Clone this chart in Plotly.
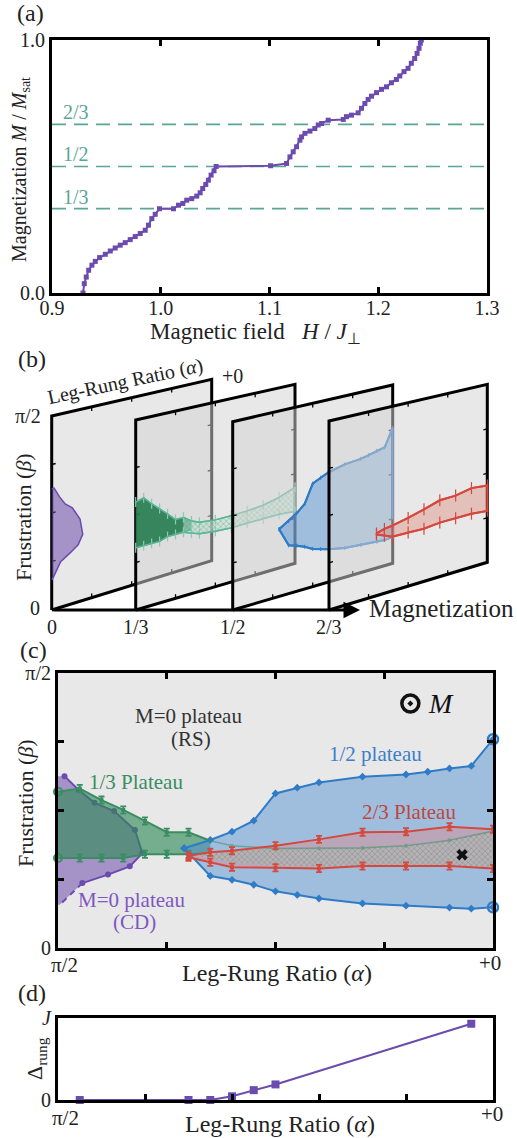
import plotly.graph_objects as go

W, H = 517, 1138
SERIF = "Liberation Serif"

PURPLE = "#6B4BAE"
GREEN = "#3A8D62"
BLUE = "#2F7BC8"
RED = "#D6483D"
TEAL = "#5AA596"

# ---------------- (a) magnetization curve ----------------
field_H = [0.9285, 0.9297, 0.9315, 0.9337, 0.9367, 0.9398, 0.9438, 0.9490, 0.9536, 0.9581,
           0.9627, 0.9673, 0.9719, 0.9765, 0.9811, 0.9857, 0.9887, 0.9918, 0.9949, 0.9988,
           1.0117, 1.0163, 1.0203, 1.0239, 1.0285, 1.0331, 1.0362, 1.0386, 1.0414, 1.0438,
           1.0463, 1.0490, 1.0509, 1.1010, 1.1157, 1.1188, 1.1218, 1.1249, 1.1280, 1.1295,
           1.1326, 1.1372, 1.1417, 1.1448, 1.1479, 1.1540, 1.1678, 1.1708, 1.1754, 1.1815,
           1.1846, 1.1877, 1.1907, 1.1938, 1.1984, 1.2030, 1.2076, 1.2121, 1.2167, 1.2198,
           1.2237, 1.2274, 1.2304, 1.2335, 1.2357, 1.2375, 1.2387, 1.2396]
magnet_M = [0.000, 0.037, 0.063, 0.090, 0.110, 0.125, 0.140, 0.153, 0.166, 0.178,
            0.189, 0.199, 0.211, 0.223, 0.235, 0.248, 0.268, 0.294, 0.311, 0.333,
            0.333, 0.347, 0.354, 0.367, 0.373, 0.383, 0.396, 0.413, 0.429, 0.446,
            0.466, 0.483, 0.500, 0.503, 0.512, 0.538, 0.558, 0.578, 0.604, 0.617,
            0.631, 0.640, 0.650, 0.664, 0.670, 0.683, 0.686, 0.697, 0.703, 0.712,
            0.730, 0.749, 0.765, 0.778, 0.792, 0.805, 0.815, 0.831, 0.844, 0.858,
            0.875, 0.888, 0.908, 0.927, 0.947, 0.967, 0.987, 1.000]
ref_levels = [1 / 3, 1 / 2, 2 / 3]
ref_labels = ["1/3", "1/2", "2/3"]
a_xticks = [0.9, 1.0, 1.1, 1.2, 1.3]
a_xticklabels = ["0.9", "1.0", "1.1", "1.2", "1.3"]

# ---------------- (c) phase diagram (alpha: 0 = pi/2 ... 1 = +0; beta: 0 ... 1 = pi/2) ----
cd_u_upper = [0.015, 0.048, 0.084, 0.129, 0.177, 0.194]
cd_upper = [0.625, 0.574, 0.528, 0.498, 0.429, 0.345]
cd_u_lower = [0.194, 0.165, 0.115, 0.056, 0.004]
cd_lower = [0.345, 0.297, 0.267, 0.236, 0.157]

third_u = [0.00, 0.05, 0.10, 0.15, 0.20, 0.25, 0.30, 0.35]
third_upper = [0.568, 0.580, 0.538, 0.502, 0.462, 0.421, 0.421, 0.390]
third_lower = [0.327, 0.327, 0.327, 0.327, 0.341, 0.341, 0.341, 0.345]

hatch_u = [0.30, 0.35, 0.40, 0.50, 0.60, 0.70, 0.80, 0.90, 1.00]
hatch_upper = [0.421, 0.390, 0.372, 0.362, 0.362, 0.364, 0.372, 0.392, 0.425]
hatch_lower = [0.341, 0.325, 0.310, 0.300, 0.295, 0.298, 0.298, 0.298, 0.290]

half_u_upper = [0.29, 0.35, 0.40, 0.45, 0.50, 0.55, 0.60, 0.70, 0.80, 0.85, 0.90, 0.95, 1.00]
half_upper = [0.363, 0.393, 0.423, 0.463, 0.562, 0.583, 0.602, 0.623, 0.631, 0.641, 0.653, 0.662, 0.759]
half_u_lower = [0.29, 0.35, 0.40, 0.45, 0.50, 0.55, 0.60, 0.70, 0.80, 0.90, 0.95, 1.00]
half_lower = [0.363, 0.262, 0.248, 0.230, 0.206, 0.193, 0.180, 0.162, 0.154, 0.147, 0.143, 0.148]

tt_u = [0.30, 0.35, 0.40, 0.50, 0.60, 0.70, 0.80, 0.90, 1.00]
tt_upper = [0.335, 0.348, 0.354, 0.372, 0.395, 0.421, 0.423, 0.441, 0.432]
tt_lower = [0.330, 0.312, 0.294, 0.292, 0.289, 0.298, 0.298, 0.298, 0.289]

cross_point = (0.929, 0.339)
c_ticks = [0, 0.25, 0.5, 0.75, 1]
alpha_end_labels = ["π/2", "+0"]

# ---------------- (d) rung gap ----------------
gap_u = [0.05, 0.30, 0.35, 0.40, 0.45, 0.50, 0.95]
gap_val = [0.0, 0.0, 0.0, 0.045, 0.12, 0.19, 0.93]

# ---------------- (b) pseudo-3D sheets (pixel frame of panel b) ----------------
sheet_names = ["0", "1/3", "1/2", "2/3"]
sheet_left = [51.7, 135.7, 232.7, 329.0]
sheet_width = [160.0, 159.3, 160.0, 158.3]
sheet_bot0 = [610.0, 610.0, 610.0, 610.0]
sheet_top0 = [416.0, 420.0, 421.7, 421.0]
sheet_bot1 = [560.7, 563.3, 563.3, 562.3]
sheet_top1 = [379.3, 384.3, 385.0, 384.3]


def proj(k, us, vs):
    xs, ys = [], []
    for u, v in zip(us, vs):
        if u is None:
            xs.append(None)
            ys.append(None)
            continue
        b = sheet_bot0[k] + u * (sheet_bot1[k] - sheet_bot0[k])
        t = sheet_top0[k] + u * (sheet_top1[k] - sheet_top0[k])
        xs.append(sheet_left[k] + u * sheet_width[k])
        ys.append(b - v * (b - t))
    return xs, ys


fig = go.Figure()


def add(tr):
    tr.update(showlegend=False, hoverinfo="skip")
    fig.add_trace(tr)


# ===== (a) =====
for lvl in ref_levels:
    add(go.Scatter(x=[a_xticks[0], a_xticks[-1]], y=[lvl, lvl], mode="lines",
                   line=dict(color=TEAL, width=1.6, dash="14px,8px"), xaxis="x", yaxis="y"))
add(go.Scatter(x=field_H, y=magnet_M, mode="lines+markers",
               line=dict(color=PURPLE, width=2),
               marker=dict(symbol="square", size=5, color=PURPLE),
               cliponaxis=False, xaxis="x", yaxis="y"))
for lvl, lab in zip(ref_levels, ref_labels):
    fig.add_annotation(x=0.922, y=lvl, xref="x", yref="y", text=lab, showarrow=False,
                       yshift=12, font=dict(family=SERIF, size=20, color=TEAL))


# ===== (b) =====
def sheet_data(k):
    B = dict(xaxis="x2", yaxis="y2")
    if k == 0:
        pu = [0] + cd_u_upper + cd_u_lower + [0]
        pv = [cd_upper[0]] + cd_upper + cd_lower + [cd_lower[-1]]
        x, y = proj(0, pu, pv)
        add(go.Scatter(x=x, y=y, mode="lines", fill="toself",
                       fillcolor="rgba(110,75,170,0.55)", line=dict(color=PURPLE, width=1.5), **B))
    if k == 1:
        x, y = proj(1, third_u + third_u[::-1], third_upper + third_lower[::-1])
        add(go.Scatter(x=x, y=y, mode="lines", fill="toself",
                       fillcolor="rgba(40,125,80,0.92)", line=dict(color="#4FA07A", width=1.2), **B))
        x, y = proj(1, hatch_u + hatch_u[::-1], hatch_upper + hatch_lower[::-1])
        add(go.Scatter(x=x, y=y, mode="lines", fill="toself", fillcolor="rgba(160,205,185,0.6)",
                       fillpattern=dict(shape="x", fgcolor="rgba(70,140,110,0.8)",
                                        bgcolor="rgba(190,225,210,0.6)", size=4, solidity=0.35),
                       line=dict(color="#5DB59A", width=1.4), **B))
        for arr_u, arr_v in ((third_u, third_upper), (third_u, third_lower),
                             (hatch_u, hatch_upper), (hatch_u, hatch_lower)):
            x, y = proj(1, arr_u, arr_v)
            add(go.Scatter(x=x, y=y, mode="lines", line=dict(color="#5DB59A", width=1.4),
                           error_y=dict(type="constant", value=5, color="#86CDAE",
                                        thickness=1.2, width=0), **B))
    if k == 2:
        x, y = proj(2, half_u_upper + half_u_lower[::-1], half_upper + half_lower[::-1])
        add(go.Scatter(x=x, y=y, mode="lines", fill="toself",
                       fillcolor="rgba(70,140,210,0.45)", line=dict(color=BLUE, width=2), **B))
        for arr_u, arr_v in ((half_u_upper, half_upper), (half_u_lower, half_lower)):
            x, y = proj(2, arr_u, arr_v)
            add(go.Scatter(x=x, y=y, mode="lines", line=dict(color=BLUE, width=2),
                           error_y=dict(type="constant", value=2, color=BLUE,
                                        thickness=1, width=0), **B))
    if k == 3:
        x, y = proj(3, tt_u + tt_u[::-1] + [tt_u[0]], tt_upper + tt_lower[::-1] + [tt_upper[0]])
        add(go.Scatter(x=x, y=y, mode="lines", fill="toself",
                       fillcolor="rgba(220,90,70,0.28)", line=dict(color=RED, width=2), **B))
        for arr_v in (tt_upper, tt_lower):
            x, y = proj(3, tt_u, arr_v)
            add(go.Scatter(x=x, y=y, mode="lines", line=dict(color=RED, width=2),
                           error_y=dict(type="constant", value=6, color=RED,
                                        thickness=1.2, width=0), **B))


for k in range(4):
    sx, sy = proj(k, [0, 1, 1, 0, 0], [0, 0, 1, 1, 0])
    add(go.Scatter(x=sx, y=sy, mode="lines", fill="toself",
                   fillcolor="rgba(211,211,211,0.52)",
                   line=dict(color="black", width=3), xaxis="x2", yaxis="y2"))
    tu, tv = [], []
    for t in (0.25, 0.5, 0.75):
        tu += [0, 0.025, None, 1, 0.975, None, t, t, None, t, t, None]
        tv += [t, t, None, t, t, None, 0, 0.022, None, 1, 0.978, None]
    tx, ty = proj(k, tu, tv)
    add(go.Scatter(x=tx, y=ty, mode="lines", line=dict(color="black", width=1.3),
                   connectgaps=False, xaxis="x2", yaxis="y2"))
    sheet_data(k)

fig.add_annotation(x=360, y=610, ax=52, ay=610, xref="x2", yref="y2", axref="x2", ayref="y2",
                   showarrow=True, arrowhead=2, arrowsize=1.1, arrowwidth=3, arrowcolor="black", text="")

# ===== (c) =====
C = dict(xaxis="x3", yaxis="y3")
pu = [0] + cd_u_upper + cd_u_lower + [0]
pv = [cd_upper[0]] + cd_upper + cd_lower + [cd_lower[-1]]
add(go.Scatter(x=pu, y=pv, mode="lines", fill="toself", fillcolor="rgba(110,75,170,0.55)",
               line=dict(width=0), **C))
add(go.Scatter(x=cd_u_upper + cd_u_lower[:-1], y=cd_upper + cd_lower[:-1], mode="lines+markers",
               line=dict(color=PURPLE, width=2), marker=dict(size=6, color=PURPLE), **C))
add(go.Scatter(x=cd_u_lower[-2:], y=cd_lower[-2:], mode="lines",
               line=dict(color=PURPLE, width=2, dash="6px,5px"), **C))

add(go.Scatter(x=third_u + third_u[::-1], y=third_upper + third_lower[::-1], mode="lines",
               fill="toself", fillcolor="rgba(46,139,87,0.62)", line=dict(width=0), **C))
for arr in (third_upper, third_lower):
    add(go.Scatter(x=third_u, y=arr, mode="lines", line=dict(color=GREEN, width=2), **C))
    add(go.Scatter(x=third_u[1:7], y=arr[1:7], mode="markers",
                   marker=dict(symbol="square", size=4, color=GREEN),
                   error_y=dict(type="constant", value=0.013, color=GREEN, thickness=1.8, width=3), **C))
add(go.Scatter(x=[third_u[0], third_u[0]], y=[third_upper[0], third_lower[0]], mode="markers",
               marker=dict(symbol="circle-open", size=8, color=GREEN, line=dict(width=2)),
               cliponaxis=False, **C))

add(go.Scatter(x=half_u_upper + half_u_lower[::-1], y=half_upper + half_lower[::-1], mode="lines",
               fill="toself", fillcolor="rgba(70,140,210,0.45)", line=dict(width=0), **C))
for uu, arr in ((half_u_upper, half_upper), (half_u_lower, half_lower)):
    add(go.Scatter(x=uu, y=arr, mode="lines+markers", line=dict(color=BLUE, width=2),
                   marker=dict(symbol="diamond", size=6, color=BLUE), **C))
add(go.Scatter(x=[half_u_upper[-1], half_u_lower[-1]], y=[half_upper[-1], half_lower[-1]],
               mode="markers", marker=dict(symbol="circle-open", size=10, color=BLUE, line=dict(width=2.5)),
               cliponaxis=False, **C))

add(go.Scatter(x=tt_u + tt_u[::-1], y=tt_upper + tt_lower[::-1], mode="lines", fill="toself",
               fillcolor="rgba(235,125,125,0.38)", line=dict(width=0), **C))
hatch_top = [min(a, b) for a, b in zip(hatch_upper, tt_upper)]
hatch_bot = [max(a, b) for a, b in zip(hatch_lower, tt_lower)]
add(go.Scatter(x=hatch_u + hatch_u[::-1], y=hatch_top + hatch_bot[::-1],
               mode="lines", fill="toself", fillcolor="rgba(150,165,155,0.45)",
               fillpattern=dict(shape="x", fgcolor="rgba(95,105,100,0.75)", bgcolor="rgba(175,190,180,0.5)",
                                size=4, solidity=0.35),
               line=dict(width=0), **C))
add(go.Scatter(x=hatch_u[1:], y=hatch_upper[1:], mode="lines+markers", opacity=0.5,
               line=dict(color=GREEN, width=1.6), marker=dict(size=4, color=GREEN), **C))
for arr in (tt_upper, tt_lower):
    add(go.Scatter(x=tt_u, y=arr, mode="lines+markers", line=dict(color=RED, width=2),
                   marker=dict(symbol="square", size=4, color=RED),
                   error_y=dict(type="constant", value=0.013, color=RED, thickness=1.8, width=3),
                   cliponaxis=False, **C))
add(go.Scatter(x=[cross_point[0]], y=[cross_point[1]], mode="markers",
               marker=dict(symbol="x", size=10, color="#111", line=dict(width=0)), **C))
add(go.Scatter(x=[0.81], y=[0.889], mode="markers",
               marker=dict(symbol="circle-open-dot", size=17, color="#111", line=dict(width=3.5)), **C))

c_texts = [
    ("M=0 plateau", 0.300, 0.843, "#333"),
    ("(RS)", 0.305, 0.760, "#333"),
    ("1/3 Plateau", 0.18, 0.605, GREEN),
    ("1/2 plateau", 0.729, 0.707, "#3B7FC9"),
    ("2/3 Plateau", 0.808, 0.496, "#C0453A"),
    ("M=0 plateau", 0.169, 0.175, "#7E57C2"),
    ("(CD)", 0.175, 0.093, "#7E57C2"),
]
for txt, xu, yv, col in c_texts:
    fig.add_annotation(x=xu, y=yv, xref="x3", yref="y3", text=txt, showarrow=False,
                       font=dict(family=SERIF, size=21, color=col))
fig.add_annotation(x=0.88, y=0.889, xref="x3", yref="y3", text="<i>M</i>", showarrow=False,
                   font=dict(family=SERIF, size=28, color="#111"))

# ===== (d) =====
add(go.Scatter(x=gap_u, y=gap_val, mode="lines+markers", line=dict(color=PURPLE, width=2),
               marker=dict(symbol="square", size=8, color=PURPLE), cliponaxis=False,
               xaxis="x4", yaxis="y4"))


# ===== texts (paper positions in pixels) =====
def P(px, py):
    return px / W, 1 - py / H


def add_text(text, px, py, size, color="#222", angle=0):
    x, y = P(px, py)
    fig.add_annotation(x=x, y=y, xref="paper", yref="paper", text=text, showarrow=False,
                       textangle=angle, font=dict(family=SERIF, size=size, color=color),
                       xanchor="center", yanchor="middle")


add_text("(a)", 30, 13, 24)
add_text("Magnetization <i>M</i> / <i>M</i><sub>sat</sub>", 20, 170, 20, angle=-90)
add_text("Magnetic field   <i>H</i> / <i>J</i><sub>⊥</sub>", 255, 333, 23)

add_text("(b)", 32, 359, 24)
add_text("Leg-Rung Ratio (<i>α</i>)", 125, 381, 20, angle=-12)
add_text("+0", 232, 376, 20)
add_text("π/2", 28, 416, 20)
add_text("0", 35, 608, 20)
add_text("Frustration (<i>β</i>)", 23, 517, 22, angle=-90)
for name, lx in zip(sheet_names, sheet_left):
    add_text(name, lx, 627, 20)
add_text("Magnetization", 441, 608, 25)

add_text("(c)", 33, 650, 24)
add_text("Frustration (<i>β</i>)", 25, 803, 22, angle=-90)
add_text(alpha_end_labels[0], 64, 965, 21)
add_text(alpha_end_labels[1], 490, 963, 21)
add_text("Leg-Rung Ratio (<i>α</i>)", 277, 973, 24)

add_text("(d)", 32, 993, 24)
add_text("Δ<sub>rung</sub>", 36, 1059, 22, angle=-90)
add_text(alpha_end_labels[0], 65, 1118, 21)
add_text(alpha_end_labels[1], 492, 1114, 21)
add_text("Leg-Rung Ratio (<i>α</i>)", 280, 1124, 24)

# ===== axes =====
common = dict(showgrid=False, zeroline=False, showline=True, linecolor="black", linewidth=3,
              tickfont=dict(family=SERIF, size=20, color="#222"), ticks="inside",
              tickcolor="black", tickwidth=2.5, ticklen=6, automargin=False)

fig.update_layout(
    width=W, height=H, margin=dict(l=0, r=0, t=0, b=0, pad=0, autoexpand=False),
    paper_bgcolor="white", plot_bgcolor="rgba(0,0,0,0)",
    font=dict(family=SERIF),
    xaxis=dict(common, domain=[52 / W, 487 / W], range=[0.9, 1.3], tickvals=a_xticks,
               ticktext=a_xticklabels, mirror="allticks", anchor="y", ticklabelstandoff=-5),
    yaxis=dict(common, domain=[1 - 293 / H, 1 - 40 / H], range=[0, 1], tickvals=[0, 1],
               ticktext=["0.0", "1.0"], mirror=True, ticklen=0, anchor="x"),
    xaxis2=dict(visible=False, domain=[0, 1], range=[0, W], anchor="y2"),
    yaxis2=dict(visible=False, domain=[1 - 650 / H, 1 - 340 / H], range=[650, 340], anchor="x2"),
    xaxis3=dict(common, domain=[58 / W, 493 / W], range=[0, 1], tickvals=c_ticks,
                showticklabels=False, mirror="allticks", anchor="y3"),
    yaxis3=dict(common, domain=[1 - 948 / H, 1 - 673 / H], range=[0, 1], tickvals=c_ticks,
                ticktext=["0", "", "", "", "π/2"], mirror="allticks", anchor="x3"),
    xaxis4=dict(common, domain=[58 / W, 493 / W], range=[0, 1], tickvals=[0, 0.2, 0.4, 0.6, 0.8, 1],
                showticklabels=False, mirror=True, anchor="y4"),
    yaxis4=dict(common, domain=[1 - 1100 / H, 1 - 1018 / H], range=[0, 1], tickvals=[0, 1],
                ticktext=["0", "<i>J</i>"], mirror=True, ticklen=0, anchor="x4"),
    shapes=[dict(type="rect", xref="x3 domain", yref="y3 domain", x0=0, x1=1, y0=0, y1=1,
                 fillcolor="#E8E8E8", line=dict(width=0), layer="below")],
)

fig.write_html("out.html", config={"displayModeBar": False},
               post_script="document.body.style.margin='0px';document.body.style.overflow='hidden';")
